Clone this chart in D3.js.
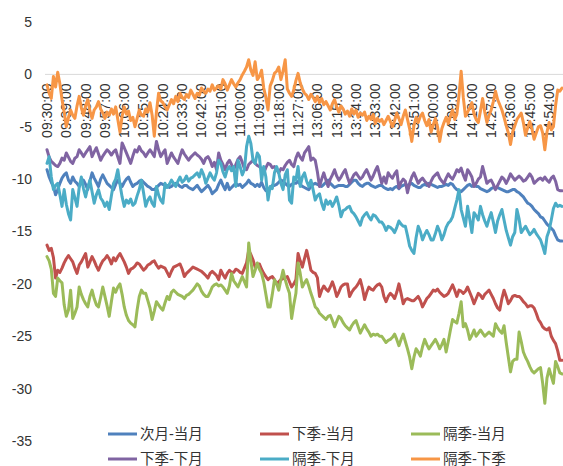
<!DOCTYPE html>
<html>
<head>
<meta charset="utf-8">
<script src="https://cdn.jsdelivr.net/npm/d3@7"></script>
<style>
  html, body { margin: 0; padding: 0; background: #fff; }
  svg { display: block; }
</style>
</head>
<body>
<div id="chart"></div>
<script>
const width = 563;
const height = 466;

// Minutes de séance : 09:30-11:30 puis 13:01-15:00
const times = [];
function pushRange(h0, m0, h1, m1) {
  for (let t = h0 * 60 + m0; t <= h1 * 60 + m1; t++) {
    times.push(String(Math.floor(t / 60)).padStart(2, "0") + ":" + String(t % 60).padStart(2, "0") + ":00");
  }
}
pushRange(9, 30, 11, 30);
pushRange(13, 1, 15, 0);

const tickLabels = ["09:30:00", "09:39:00", "09:48:00", "09:57:00", "10:06:00", "10:15:00", "10:24:00",
  "10:33:00", "10:42:00", "10:51:00", "11:00:00", "11:09:00", "11:18:00", "11:27:00", "13:06:00",
  "13:15:00", "13:24:00", "13:33:00", "13:42:00", "13:51:00", "14:00:00", "14:09:00", "14:18:00",
  "14:27:00", "14:36:00", "14:45:00", "14:54:00"];

const yTicks = [5, 0, -5, -10, -15, -20, -25, -30, -35];

const seriesNames = ["次月-当月", "下季-当月", "隔季-当月", "下季-下月", "隔季-下月", "隔季-下季"];
const seriesColors = ["#4F81BD", "#C0504D", "#9BBB59", "#8064A2", "#4BACC6", "#F79646"];

// 次月-当月
const nextMonthVsCur = [
  -9.1, -9.8, -10.3, -10.7, -11.5, -11.0, -10.4, -9.9, -9.6, -9.4,
  -10.1, -10.4, -9.8, -10.2, -10.4, -10.7, -10.3, -10.1, -10.5, -11.0,
  -10.2, -9.4, -9.9, -10.3, -10.7, -10.0, -9.6, -10.0, -10.4, -10.6,
  -10.8, -11.0, -10.5, -10.1, -10.4, -10.7, -10.3, -10.0, -9.8, -10.3,
  -10.7, -10.5, -10.4, -10.2, -10.1, -10.3, -10.5, -10.7, -10.8, -11.0,
  -11.0, -10.8, -10.6, -10.4, -10.5, -10.6, -10.6, -10.8, -10.7, -10.5,
  -10.4, -10.5, -10.7, -10.8, -10.6, -10.6, -10.8, -10.9, -11.0, -10.8,
  -10.6, -10.9, -11.2, -11.0, -10.8, -10.6, -10.9, -11.4, -11.2, -11.0,
  -10.5, -10.1, -10.6, -11.0, -10.4, -11.0, -10.8, -10.6, -10.4, -10.6,
  -10.5, -10.8, -10.6, -10.4, -10.1, -10.4, -10.5, -10.7, -10.5, -10.7,
  -10.3, -10.8, -11.1, -11.0, -10.8, -10.6, -10.6, -10.5, -10.3, -10.1,
  -10.2, -10.4, -10.6, -10.7, -10.5, -10.4, -10.4, -10.2, -10.5, -10.7,
  -10.8, -10.9, -11.0, -10.7, -10.5, -10.4, -10.5, -10.6, -10.7, -10.5,
  -10.3, -10.1, -10.4, -10.6, -10.8, -10.7, -10.6, -10.6, -10.6, -10.7,
  -10.7, -10.5, -10.3, -10.1, -10.1, -10.4, -10.6, -10.7, -10.5, -10.4,
  -10.4, -10.6, -10.7, -10.8, -10.7, -10.6, -10.6, -10.8, -10.9, -11.0,
  -10.9, -11.0, -10.8, -10.7, -10.9, -10.7, -10.6, -10.5, -10.6, -10.5,
  -10.4, -10.6, -10.7, -10.8, -10.8, -10.6, -10.5, -10.6, -10.4, -10.5,
  -10.6, -10.7, -10.8, -10.7, -10.7, -10.6, -10.5, -10.6, -10.4, -10.5,
  -10.8, -11.0, -11.1, -11.2, -11.0, -10.8, -10.6, -10.5, -10.7, -10.6,
  -10.7, -10.7, -10.9, -11.0, -11.1, -11.2, -11.1, -10.9, -10.8, -10.9,
  -10.8, -10.9, -11.0, -11.1, -11.2, -11.2, -11.1, -11.0, -11.0, -11.2,
  -11.3, -11.5, -11.7, -12.0, -12.3, -12.4, -12.6, -12.9, -13.1, -13.3,
  -13.6, -13.7, -14.0, -14.3, -14.5, -14.7, -14.9, -15.4, -15.8, -15.9, -15.9
];

// 下季-当月
const nextQtrVsCur = [
  -16.3, -16.8, -16.6, -17.5, -19.45, -18.7, -18.9, -18.5, -18.0, -17.6,
  -17.3, -17.6, -17.9, -18.5, -19.0, -18.2, -17.9, -17.5, -17.1, -18.4,
  -17.9, -17.4, -17.8, -18.3, -18.7, -18.2, -17.8, -17.6, -17.3, -17.6,
  -18.1, -17.5, -17.8, -17.4, -17.1, -17.5, -17.9, -18.4, -19.0, -18.6,
  -18.5, -18.3, -18.0, -18.1, -18.4, -18.7, -18.5, -18.2, -18.1, -17.9,
  -17.8, -18.2, -18.5, -18.3, -18.4, -18.5, -18.9, -19.3, -18.8, -18.4,
  -18.3, -18.2, -18.1, -18.6, -19.3, -19.0, -18.8, -18.6, -18.4, -18.5,
  -18.6, -18.7, -18.8, -19.0, -19.2, -19.45, -19.0, -18.8, -19.0, -19.2,
  -19.6, -18.7, -19.1, -19.45, -19.0, -18.7, -18.9, -18.9, -18.6, -18.7,
  -18.9, -19.0, -18.5, -18.0, -16.8, -17.2, -17.7, -18.4, -18.2, -18.1,
  -18.6, -19.0, -19.3, -19.6, -19.4, -19.3, -19.6, -20.0, -19.8, -19.6,
  -19.5, -19.4, -19.3, -19.8, -20.3, -20.0, -19.6, -17.1, -17.8, -18.4,
  -17.6, -16.8, -17.7, -18.7, -18.9, -19.0, -19.4, -21.2, -20.6, -20.2,
  -20.5, -20.7, -20.3, -19.8, -20.4, -21.2, -20.8, -20.3, -20.1, -20.0,
  -20.0, -21.2, -20.8, -20.5, -20.3, -20.0, -19.6, -20.4, -21.5, -20.8,
  -20.3, -20.5, -20.6, -20.3, -20.1, -20.0, -20.3, -21.2, -21.7, -21.2,
  -20.9, -21.1, -21.4, -20.8, -20.0, -20.9, -21.9, -21.5, -21.4, -21.5,
  -21.6, -21.6, -21.4, -21.2, -21.6, -22.2, -21.8, -21.4, -21.2, -20.9,
  -20.6, -20.7, -20.5, -20.8, -21.0, -21.2, -21.1, -20.9, -20.5, -20.1,
  -20.6, -21.2, -20.6, -20.7, -20.9, -20.7, -20.3, -20.8, -21.3, -21.9,
  -21.4, -20.9, -21.1, -21.4, -21.0, -20.8, -20.6, -21.0, -21.4, -21.9,
  -22.3, -22.5, -21.4, -20.6, -21.2, -21.9, -21.6, -21.2, -21.1, -21.2,
  -21.2, -21.4, -21.7, -21.9, -22.2, -22.1, -22.1, -22.3, -22.8, -23.4,
  -23.7, -24.1, -24.3, -24.4, -24.2, -25.0, -25.4, -25.7, -26.4, -27.3, -27.3
];

// 隔季-当月
const farQtrVsCur = [
  -17.4, -17.8, -18.6, -20.9, -21.2, -19.45, -19.7, -19.9, -22.0, -23.1,
  -22.5, -20.6, -23.3, -22.8, -22.2, -20.3, -21.0, -21.5, -21.9, -22.2,
  -21.2, -20.6, -21.4, -22.0, -22.2, -21.3, -20.3, -21.2, -22.1, -23.1,
  -21.7, -20.4, -20.8, -20.3, -20.0, -21.0, -22.2, -23.0, -23.5, -23.75,
  -23.9, -24.1, -22.5, -21.2, -20.6, -20.9, -20.9, -21.6, -22.3, -23.4,
  -22.6, -21.7, -22.0, -22.3, -22.5, -21.8, -21.2, -21.5, -20.8, -20.6,
  -20.8, -21.0, -21.1, -21.2, -21.4, -21.1, -21.0, -20.8, -20.6, -20.3,
  -20.0, -20.2, -20.7, -21.0, -21.2, -21.2, -20.8, -20.3, -20.1, -20.0,
  -20.2, -20.1, -20.3, -20.6, -20.9, -20.2, -19.0, -19.7, -20.0, -20.3,
  -19.8, -19.3, -19.8, -20.3, -16.1, -17.8, -19.3, -18.7, -18.0, -18.6,
  -19.0, -19.8, -21.0, -22.2, -22.2, -21.0, -19.6, -20.0, -20.6, -19.6,
  -18.7, -19.6, -20.3, -20.9, -23.3, -22.0, -20.9, -18.0, -19.0, -20.3,
  -19.9, -19.6, -20.2, -20.9, -21.5, -22.2, -22.4, -22.8, -23.0, -23.2,
  -23.4, -23.1, -23.0, -23.5, -24.1, -23.6, -23.1, -23.3, -23.7, -24.0,
  -24.2, -24.4, -24.0, -23.7, -23.5, -24.1, -24.7, -24.3, -23.9, -24.3,
  -24.6, -25.0, -24.8, -24.9, -24.8, -25.0, -25.0, -25.3, -25.6, -25.4,
  -25.3, -25.1, -24.8, -25.3, -25.9, -25.3, -24.8, -25.5, -26.2, -27.0,
  -28.1, -27.0, -26.2, -26.5, -26.9, -26.0, -25.3, -25.8, -26.2, -25.9,
  -25.6, -25.3, -25.7, -26.2, -25.8, -25.3, -26.5, -25.5, -24.4, -23.4,
  -23.6, -23.75, -22.8, -21.7, -24.1, -23.8, -24.4, -25.3, -24.9, -24.4,
  -25.0, -24.7, -24.4, -24.7, -25.0, -24.8, -24.6, -24.8, -25.0, -23.8,
  -24.2, -24.5, -24.7, -24.0, -25.6, -27.0, -28.4, -27.4, -27.2, -27.2,
  -24.6, -25.5, -26.5, -27.0, -27.4, -27.9, -28.3, -28.5, -28.3, -28.1,
  -28.0, -29.5, -31.4, -29.0, -28.1, -28.8, -29.5, -27.4, -27.9, -28.5, -28.6
];

// 下季-下月
const nextQtrVsNextMonth = [
  -7.2, -7.9, -8.3, -8.5, -8.7, -8.8, -8.5, -8.0, -8.2, -7.5,
  -7.9, -8.3, -8.5, -8.0, -7.85, -7.2, -7.5, -7.85, -7.5, -7.2,
  -6.9, -7.85, -7.4, -7.0, -7.6, -8.2, -7.8, -7.5, -7.2, -7.4,
  -7.7, -7.4, -7.2, -7.9, -8.5, -6.55, -7.0, -7.5, -8.0, -8.5,
  -7.8, -7.2, -7.4, -6.9, -7.3, -7.5, -7.85, -7.5, -7.2, -7.5,
  -7.85, -6.4, -7.2, -7.85, -7.5, -7.2, -8.5, -8.0, -7.5, -7.9,
  -8.2, -8.5, -7.8, -7.2, -7.6, -7.9, -8.2, -7.9, -7.7, -7.5,
  -7.7, -7.85, -8.1, -8.5, -8.0, -7.85, -8.2, -8.8, -8.4, -9.1,
  -7.5, -8.2, -8.6, -9.1, -8.5, -8.2, -8.6, -9.1, -8.6, -8.1,
  -7.85, -8.4, -9.0, -9.1, -8.6, -8.4, -8.2, -8.5, -8.7, -8.8,
  -9.0, -9.4, -8.9, -8.5, -8.6, -8.9, -8.8, -9.1, -9.4, -9.0,
  -9.1, -8.7, -8.4, -8.2, -8.6, -8.8, -8.0, -7.5, -7.9, -8.2,
  -7.5, -7.2, -6.9, -8.2, -8.0, -8.2, -9.3, -10.7, -10.0, -9.4,
  -10.1, -10.7, -10.0, -9.6, -9.1, -9.7, -10.1, -9.8, -9.4, -9.1,
  -9.8, -10.4, -10.0, -9.6, -9.4, -9.7, -10.0, -9.8, -9.4, -9.1,
  -9.6, -10.1, -9.7, -9.2, -8.8, -9.6, -10.4, -9.8, -10.4, -9.4,
  -9.7, -9.9, -9.5, -9.2, -10.85, -10.3, -10.0, -10.2, -11.3, -10.4,
  -9.8, -9.4, -9.9, -10.4, -10.1, -9.9, -10.2, -10.4, -10.7, -10.2,
  -9.8, -9.6, -9.4, -9.9, -10.2, -10.4, -9.9, -9.5, -9.8, -10.0,
  -9.6, -9.1, -9.3, -8.95, -9.6, -10.1, -9.1, -9.4, -9.8, -10.7,
  -10.4, -10.0, -9.8, -8.8, -9.6, -10.4, -10.2, -10.1, -10.5, -11.0,
  -10.6, -10.2, -9.8, -10.0, -10.4, -10.0, -9.5, -9.8, -10.1, -9.9,
  -9.7, -9.9, -10.2, -10.1, -9.8, -9.5, -9.8, -10.4, -10.2, -10.0,
  -9.9, -10.1, -9.8, -10.1, -10.3, -9.9, -9.7, -10.2, -11.0, -11.1, -11.1
];

// 隔季-下月
const farQtrVsNextMonth = [
  -8.5, -7.85, -9.8, -11.0, -10.6, -10.4, -11.5, -12.6, -11.0, -12.4,
  -13.3, -13.9, -11.0, -11.8, -12.6, -10.8, -9.8, -10.9, -11.7, -10.8,
  -10.1, -11.2, -12.3, -11.5, -11.0, -11.8, -12.1, -12.6, -12.2, -12.9,
  -11.6, -10.4, -10.0, -9.1, -10.5, -11.7, -12.6, -12.0, -12.3, -11.9,
  -12.5, -12.3, -11.6, -11.0, -10.1, -11.3, -12.6, -12.0, -11.7, -12.3,
  -12.6, -10.7, -11.5, -12.0, -12.3, -10.4, -10.8, -10.5, -10.1, -10.4,
  -10.7, -10.2, -9.8, -10.3, -10.1, -9.7, -10.2, -9.9, -9.8, -9.6,
  -9.4, -9.8, -9.1, -9.6, -10.4, -9.9, -9.4, -9.8, -10.1, -9.4,
  -8.2, -8.5, -9.3, -9.8, -9.1, -8.8, -9.2, -8.8, -10.7, -8.2,
  -8.8, -9.6, -9.1, -6.9, -5.9, -6.6, -8.2, -8.5, -7.5, -7.85,
  -10.1, -8.8, -9.8, -12.0, -10.7, -10.9, -9.4, -8.8, -9.4, -10.4,
  -11.0, -9.6, -9.1, -12.0, -12.3, -9.8, -10.1, -8.8, -10.7, -9.8,
  -9.4, -10.2, -10.7, -10.1, -11.0, -12.0, -11.6, -11.4, -12.3, -12.9,
  -12.0, -12.4, -12.1, -12.6, -12.2, -11.7, -12.5, -13.6, -13.0, -12.9,
  -12.7, -12.6, -13.1, -13.3, -13.6, -14.0, -14.4, -13.7, -13.4, -13.2,
  -13.6, -13.9, -13.4, -13.5, -13.8, -14.1, -14.1, -14.4, -14.9, -14.5,
  -14.6, -14.8, -15.1, -14.6, -14.0, -14.3, -14.5, -14.5, -15.4, -16.4,
  -16.8, -17.1, -15.6, -14.5, -15.0, -15.8, -15.3, -14.9, -15.3, -15.8,
  -15.8, -15.2, -14.5, -15.0, -15.8, -15.3, -14.6, -14.2, -14.0, -13.6,
  -12.8, -12.0, -11.0, -12.9, -13.7, -14.5, -12.6, -13.8, -15.1, -13.2,
  -13.5, -13.9, -12.6, -13.4, -14.0, -14.5, -13.8, -13.2, -14.1, -15.1,
  -14.0, -13.4, -12.9, -13.9, -14.9, -15.6, -16.3, -15.5, -15.1, -12.9,
  -13.8, -15.1, -14.8, -14.5, -14.9, -15.3, -15.1, -14.8, -15.2, -15.5,
  -15.8, -16.4, -17.1, -15.5, -14.9, -13.9, -12.8, -12.3, -12.6, -12.5, -12.6
];

// 隔季-下季
const farQtrVsNextQtr = [
  -1.0, -1.8, -2.3, -0.2, -1.2, 0.2, -0.9, -2.4, -3.6, -5.0,
  -4.1, -3.4, -3.9, -4.2, -3.0, -2.1, -3.2, -3.9, -3.0, -2.4,
  -3.5, -4.2, -3.4, -3.1, -2.6, -3.3, -3.7, -4.2, -3.6, -3.9,
  -3.3, -3.8, -3.1, -4.3, -5.5, -4.0, -3.1, -3.8, -3.5, -4.4,
  -4.1, -5.0, -4.2, -3.4, -3.9, -4.0, -3.3, -3.6, -2.7, -3.9,
  -5.9, -3.6, -1.8, -2.5, -2.7, -3.1, -3.4, -2.9, -2.4, -2.8,
  -2.1, -2.6, -1.8, -2.2, -2.4, -1.9, -2.2, -1.5, -1.9, -2.3,
  -1.8, -2.0, -1.3, -1.6, -1.8, -1.4, -1.6, -1.0, -1.5, -1.3,
  -1.1, -1.4, -0.5, -0.9, -1.5, -1.0, -0.5, -0.9, -1.2, -0.8,
  -0.5, -0.05, 0.3, 0.7, 1.4, 0.4, -0.1, 1.2, -0.5, -0.2,
  0.4, -1.3, -2.2, -3.4, -1.1, -0.6, 0.1, 0.3, 0.7, -0.5,
  0.3, 1.4, -1.4, -1.8, -2.1, -1.5, -0.6, 0.1, -0.8, -1.4,
  -1.8, -2.0, -2.4, -1.9, -2.2, -2.6, -2.1, -2.7, -2.3, -2.9,
  -2.6, -3.0, -3.4, -2.8, -2.4, -3.1, -3.6, -3.0, -3.3, -3.8,
  -3.5, -4.0, -3.3, -3.8, -3.4, -4.1, -3.7, -3.9, -3.6, -4.4,
  -4.0, -4.3, -3.8, -4.7, -4.2, -4.5, -4.3, -4.8, -4.4, -4.0,
  -4.5, -5.0, -4.4, -3.7, -4.2, -4.8, -4.0, -3.4, -4.3, -5.2,
  -6.4, -4.9, -4.1, -4.6, -4.0, -3.7, -4.4, -4.9, -4.3, -5.5,
  -4.8, -4.2, -5.0, -6.4, -5.2, -4.6, -4.1, -4.7, -4.0, -3.4,
  -4.3, -3.8, -2.0, 0.3, -2.2, -4.0, -3.6, -3.2, -2.7, -3.8,
  -4.3, -4.6, -3.5, -2.3, -3.6, -4.6, -3.9, -3.4, -2.6, -1.6,
  -2.4, -2.9, -3.4, -4.1, -4.9, -5.6, -6.7, -5.5, -4.9, -4.3,
  -4.0, -3.7, -4.6, -5.8, -5.1, -4.5, -5.2, -6.2, -5.6, -5.0,
  -4.9, -5.6, -7.2, -5.5, -4.6, -5.3, -5.0, -3.0, -1.5, -1.6, -1.3
];

const seriesValues = [nextMonthVsCur, nextQtrVsCur, farQtrVsCur, nextQtrVsNextMonth, farQtrVsNextMonth, farQtrVsNextQtr];

const font = "'Liberation Sans', 'Noto Sans CJK SC', sans-serif";
const textColor = "#333";

const svg = d3.select("#chart").append("svg")
  .attr("width", width)
  .attr("height", height);

// Échelles
const x = d3.scalePoint().domain(times).range([47, 562]);
const y = d3.scaleLinear().domain([-35, 5]).range([441, 22]);

// Axe des catégories à y = 0
svg.append("line")
  .attr("x1", 45).attr("x2", 563)
  .attr("y1", y(0)).attr("y2", y(0))
  .attr("stroke", "#d9d9d9")
  .attr("stroke-width", 1);

// Étiquettes de l'axe Y
svg.append("g")
  .selectAll("text")
  .data(yTicks)
  .enter().append("text")
  .attr("x", 32)
  .attr("y", d => y(d))
  .attr("dy", "0.35em")
  .attr("text-anchor", "end")
  .attr("font-family", font)
  .attr("font-size", 14)
  .attr("fill", textColor)
  .text(d => d);

// Étiquettes de temps, tournées
svg.append("g")
  .selectAll("text")
  .data(tickLabels)
  .enter().append("text")
  .attr("transform", d => `translate(${x(d)},${y(0) + 9}) rotate(-90)`)
  .attr("dy", "0.35em")
  .attr("text-anchor", "end")
  .attr("font-family", font)
  .attr("font-size", 14)
  .attr("fill", textColor)
  .text(d => d);

// Séries
const line = d3.line()
  .x((d, i) => x(times[i]))
  .y(d => y(d));

svg.append("g")
  .selectAll("path")
  .data(seriesValues)
  .enter().append("path")
  .attr("d", d => line(d))
  .attr("fill", "none")
  .attr("stroke", (d, i) => seriesColors[i])
  .attr("stroke-width", 3)
  .attr("stroke-linejoin", "round")
  .attr("stroke-linecap", "round");

// Légende : 2 lignes x 3 colonnes
const legendCols = [108, 260, 411];
const legendRows = [434, 459];
const legend = svg.append("g")
  .selectAll("g")
  .data(seriesNames)
  .enter().append("g")
  .attr("transform", (d, i) => `translate(${legendCols[i % 3]},${legendRows[Math.floor(i / 3)]})`);

legend.append("line")
  .attr("x1", 0).attr("x2", 29)
  .attr("y1", 0).attr("y2", 0)
  .attr("stroke", (d, i) => seriesColors[i])
  .attr("stroke-width", 3);

legend.append("text")
  .attr("x", 32)
  .attr("y", 0)
  .attr("dy", "0.35em")
  .attr("font-family", font)
  .attr("font-size", 14.5)
  .attr("fill", textColor)
  .text(d => d);
</script>
</body>
</html>
